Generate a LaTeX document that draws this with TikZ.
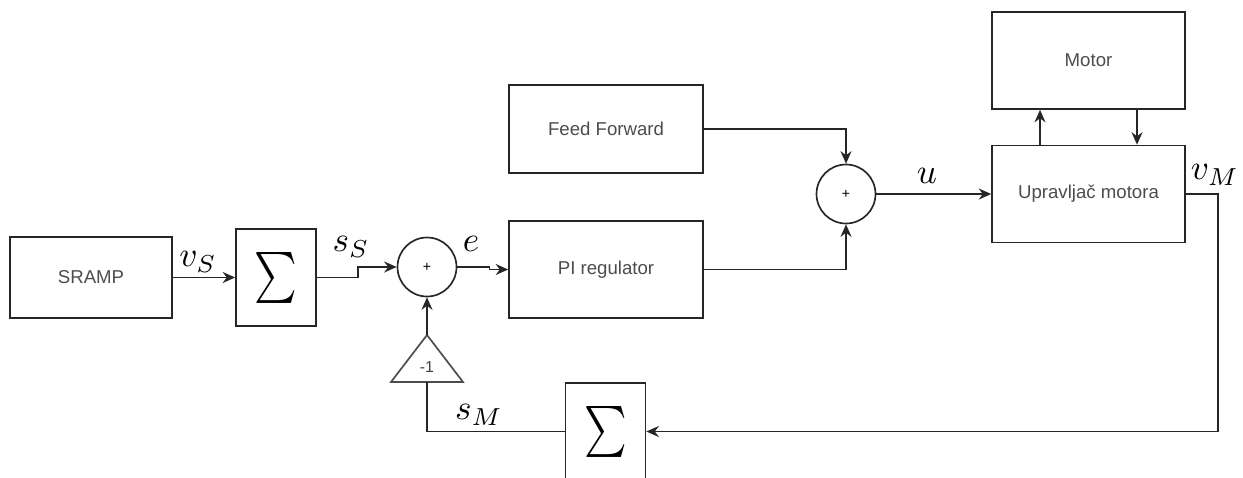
\documentclass[tikz,border=0pt]{standalone}
\usepackage{fontspec}
\setsansfont{Liberation Sans}
\usetikzlibrary{positioning, arrows.meta, calc}

\begin{document}
\begin{tikzpicture}[x=0.02cm, y=-0.02cm, line width=0.95pt,
    blk/.style={draw=black!85, rectangle, minimum width=3.88cm, minimum height=1.94cm,
      font=\sffamily\fontsize{10.6}{13}\selectfont, text=black!70},
    sumblk/.style={draw=black!85, rectangle, minimum width=1.6cm, minimum height=1.94cm, inner sep=0pt},
    adder/.style={draw=black!85, circle, minimum size=1.18cm, inner sep=0pt,
      font=\sffamily\fontsize{8}{8}\selectfont},
    sig/.style={inner sep=0pt},
    arr/.style={draw=black!85, -{Stealth[length=2.5mm, width=2.2mm]}},
    con/.style={draw=black!85}]
  \useasboundingbox (0,0) rectangle (1243,477);

  % Blocks
  \node[blk, minimum width=3.24cm, minimum height=1.62cm] (sramp) at (91,277.5) {SRAMP};
  \node[sumblk] (sumA) at (276,277.5) {\scalebox{2.3}[2.9]{$\sum$}};
  \node[adder] (add1) at (427,267) {+};
  \node[blk] (pireg) at (606,269.5) {PI regulator};
  \node[blk, minimum height=1.76cm] (ff) at (606,129) {Feed Forward};
  \node[adder] (add2) at (846,194) {+};
  \node[blk, minimum width=3.86cm] (upr) at (1088.5,194) {Upravljač motora};
  \node[blk, minimum width=3.86cm] (motor) at (1088.5,60.5) {Motor};
  \node[sumblk] (sumB) at (605.5,431.5) {\scalebox{2.3}[2.9]{$\sum$}};

  % Gain -1
  \coordinate (gtop) at (427,335);
  \coordinate (gbot) at (427,382);
  \draw[draw=black!70] (391,382) -- (gtop) -- (463,382) -- cycle;
  \node[font=\sffamily\fontsize{9}{9}\selectfont, text=black!75] (gain) at (427,367) {-1};

  % Signals
  \node[sig] (lvs) at (198,262) {\scalebox{2}{$v_S$}};
  \node[sig] (lss) at (351,247) {\scalebox{2}{$s_S$}};
  \node[sig] (le) at (471,244) {\scalebox{2}{$e$}};
  \node[sig] (lu) at (927,176) {\scalebox{2}{$u$}};
  \node[sig] (lvm) at (1215,175) {\scalebox{2}{$v_M$}};
  \node[sig] (lsm) at (479,415) {\scalebox{2}{$s_M$}};

  % Connectors
  \draw[arr] (sramp.east) -- (sumA.west);
  \draw[arr] (sumA.east) -- ++(41,0) |- (add1.west);
  \draw[arr] (add1.east) -- ++(32,0) |- (pireg.west);
  \draw[arr] (gtop) -- (add1.south);
  \draw[con] (sumB.west) -| (gbot);
  \draw[arr] (ff.east) -| (add2.north);
  \draw[arr] (pireg.east) -| (add2.south);
  \draw[arr] (add2.east) -- (upr.west);
  \draw[arr] ($(upr.north)+(-48.5,0)$) -- ($(motor.south)+(-48.5,0)$);
  \draw[arr] ($(motor.south)+(48.5,0)$) -- ($(upr.north)+(48.5,0)$);
  \draw[arr] (upr.east) -- ++(32,0) |- (sumB.east);
\end{tikzpicture}
\end{document}
